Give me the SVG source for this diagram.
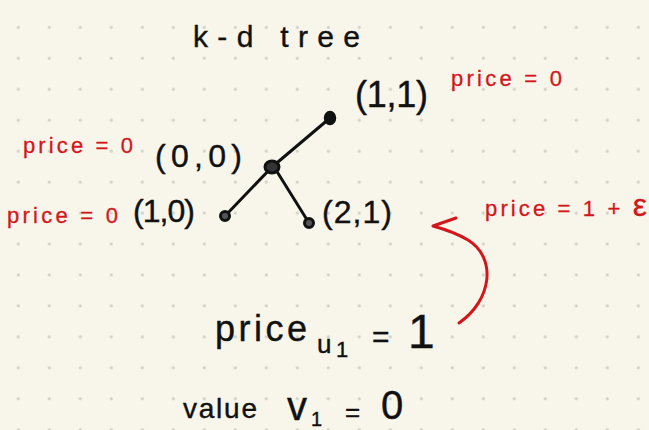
<svg xmlns="http://www.w3.org/2000/svg" width="649" height="430" viewBox="0 0 649 430">
  <defs>
    <pattern id="grid" patternUnits="userSpaceOnUse" x="2.8" y="11.8" width="31" height="30.95">
      <circle cx="15.5" cy="15.5" r="1.6" fill="#d2d0c9"/>
    </pattern>
  </defs>
  <style>
    .ink { font-family: "Liberation Sans", "DejaVu Sans", sans-serif; fill: #111; stroke: #111; stroke-width: 0.4; }
    .red { font-family: "Liberation Sans", "DejaVu Sans", sans-serif; fill: #d3161b; stroke: #d3161b; stroke-width: 0.3; font-size: 22px; }
    .edge { stroke: #111; stroke-width: 3; stroke-linecap: round; fill: none; }
    .dot { fill: #111; stroke: #111; stroke-width: 2.5; }
    .arrow { stroke: #d3161b; stroke-width: 3; stroke-linecap: round; stroke-linejoin: round; fill: none; }
  </style>
  <rect width="649" height="430" fill="#f8f6ea"/>
  <rect width="649" height="430" fill="url(#grid)"/>

  <text class="ink" x="193" y="47" font-size="30" textLength="167" lengthAdjust="spacing">k-d tree</text>

  <g id="connectors">
    <line class="edge" x1="330" y1="118" x2="272" y2="167"/>
    <line class="edge" x1="272" y1="167" x2="225" y2="216"/>
    <line class="edge" x1="276" y1="170" x2="309" y2="223"/>
    <path class="arrow" d="M459,323 C492,300 497,258 468,240 C456,233 444,229 433,226 L456,218"/>
  </g>

  <g id="node-1-1">
    <ellipse class="dot" cx="330" cy="118" rx="5" ry="6"/>
    <text class="ink" x="355" y="107" font-size="36" textLength="73" lengthAdjust="spacing">(1,1)</text>
    <text class="red" x="451" y="86" textLength="111" lengthAdjust="spacing">price = 0</text>
  </g>

  <g id="node-0-0">
    <ellipse cx="272" cy="167" rx="7" ry="6" fill="#333" stroke="#111" stroke-width="3"/>
    <text class="ink" x="155" y="167" font-size="32" textLength="87" lengthAdjust="spacing">(0,0)</text>
    <text class="red" x="23" y="153" textLength="110" lengthAdjust="spacing">price = 0</text>
  </g>

  <g id="node-1-0">
    <circle cx="225" cy="216" r="4.5" fill="#555" stroke="#111" stroke-width="3"/>
    <text class="ink" x="133" y="222" font-size="32" textLength="62" lengthAdjust="spacing">(1,0)</text>
    <text class="red" x="7" y="223" textLength="111" lengthAdjust="spacing">price = 0</text>
  </g>

  <g id="node-2-1">
    <circle cx="309" cy="223" r="4.5" fill="#555" stroke="#111" stroke-width="3"/>
    <text class="ink" x="322" y="223" font-size="32" textLength="70" lengthAdjust="spacing">(2,1)</text>
    <text class="red" x="485" y="216" font-size="24" textLength="162" lengthAdjust="spacing">price = 1 + <tspan font-size="32">ε</tspan></text>
  </g>

  <g id="price-line">
    <text class="ink" x="215" y="341" font-size="36" textLength="92" lengthAdjust="spacing">price</text>
    <text class="ink" x="317" y="353" font-size="26">u</text>
    <text class="ink" x="336" y="357" font-size="22">1</text>
    <text class="ink" x="372" y="347" font-size="30">=</text>
    <text class="ink" x="408" y="348" font-size="48">1</text>
  </g>

  <g id="value-line">
    <text class="ink" x="183" y="418" font-size="28" textLength="74" lengthAdjust="spacing">value</text>
    <text class="ink" x="287" y="420" font-size="40">v</text>
    <text class="ink" x="311" y="426" font-size="20">1</text>
    <text class="ink" x="345" y="421" font-size="26">=</text>
    <text class="ink" x="381" y="419" font-size="40">0</text>
  </g>
</svg>
